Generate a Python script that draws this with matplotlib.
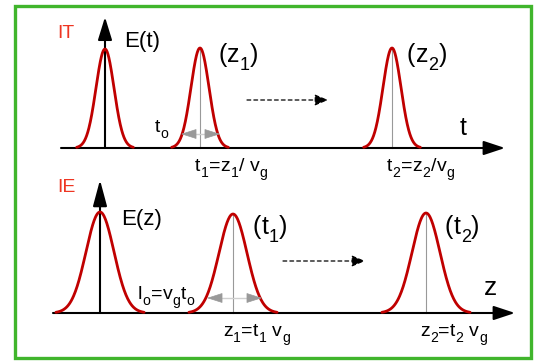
"""Pulse propagation sketch: IT (time domain) and IE (space domain) panels."""
import numpy as np
import matplotlib.pyplot as plt
from matplotlib.patches import Rectangle

plt.rcParams['font.family'] = ['Liberation Sans', 'DejaVu Sans']

# pulse data (pixel units of the sketch)
top_centers = [105, 200, 392]
top_heights = [99, 100, 100]
top_sigma = 9.0
bot_centers = [100, 233, 426]
bot_heights = [101, 99, 100]
bot_sigma = 14.0

top_base = 148
bot_base = 313
top_axis = (61, 505)
bot_axis = (53, 515)
top_vaxis_tip = 17
bot_vaxis_tip = 180

RED = '#c00000'
LABEL_RED = '#ee3522'
GRAY = '#999999'
GREEN = '#40b52c'

fig = plt.figure(figsize=(5.37, 3.61), dpi=100)
ax = fig.add_axes([0, 0, 1, 1])
ax.set_xlim(0, 537)
ax.set_ylim(361, 0)
ax.axis('off')
renderer = fig.canvas.get_renderer()


def arrow(x0, y0, x1, y1, color='black', lw=1.5, hl=13, hw=4.3, ls='-'):
    ax.annotate('', xy=(x1, y1), xytext=(x0, y0),
                arrowprops=dict(arrowstyle=f'-|>,head_length={hl},head_width={hw}',
                                mutation_scale=1, color=color, lw=lw,
                                linestyle=ls, shrinkA=0, shrinkB=0))


def pulses(centers, heights, sigma, base):
    for i, (c, h) in enumerate(zip(centers, heights)):
        x = np.linspace(c - 3.15 * sigma, c + 3.15 * sigma, 200)
        y = base - h * np.exp(-(x - c) ** 2 / (2 * sigma ** 2))
        ax.plot(x, y, color=RED, lw=2.0, solid_capstyle='round', zorder=3)
        if i > 0:
            ax.plot([c, c], [base, base - h], color=GRAY, lw=0.8, zorder=2)


def double_arrow(x0, x1, y):
    ax.plot([x0 + 5, x1 - 5], [y, y], color='#d0d0d0', lw=1.0, zorder=2)
    arrow(x0 + 13, y, x0, y, color=GRAY, lw=0.5, hl=10, hw=3.2)
    arrow(x1 - 13, y, x1, y, color=GRAY, lw=0.5, hl=10, hw=3.2)


def rich(x, y, text, size):
    """Draw text where '_c' makes the single char c a lowered subscript."""
    pieces = []
    i = 0
    while i < len(text):
        if text[i] == '_':
            pieces.append((text[i + 1], True))
            i += 2
        else:
            pieces.append((text[i], False))
            i += 1
    for s, sub in pieces:
        fs = size * 0.72 if sub else size
        dy = size * 0.32 * 100 / 72 if sub else 0
        t = ax.text(x, y + dy, s, fontsize=fs, ha='left', va='baseline', color='black')
        if s == ' ':
            x += size * 0.28 * 100 / 72
        else:
            x += t.get_window_extent(renderer).width + 0.3


# top panel
arrow(top_axis[0], top_base, top_axis[1], top_base, hl=13, hw=4.3)
arrow(top_centers[0], top_base, top_centers[0], top_vaxis_tip, hl=14, hw=4.3)
pulses(top_centers, top_heights, top_sigma, top_base)
double_arrow(181, 220, 134)
arrow(247, 100, 328, 100, lw=0.9, hl=8, hw=3.4, ls=(0, (3, 2.5)))

# bottom panel
arrow(bot_axis[0], bot_base, bot_axis[1], bot_base, hl=13, hw=4.3)
arrow(bot_centers[0], bot_base, bot_centers[0], bot_vaxis_tip, hl=16, hw=4.3)
pulses(bot_centers, bot_heights, bot_sigma, bot_base)
double_arrow(207, 262, 298)
arrow(283, 261, 365, 261, lw=0.9, hl=8, hw=3.4, ls=(0, (3, 2.5)))

# labels
ax.text(57, 38, 'IT', fontsize=14, ha='left', va='baseline', color=LABEL_RED)
ax.text(57, 192, 'IE', fontsize=14, ha='left', va='baseline', color=LABEL_RED)
ax.text(124, 47, 'E(t)', fontsize=16, ha='left', va='baseline')
ax.text(121, 225, 'E(z)', fontsize=16, ha='left', va='baseline')
rich(218, 62, '(z_1)', 18)
rich(407, 62, '(z_2)', 18)
rich(253, 234, '(t_1)', 18)
rich(445, 234, '(t_2)', 18)
ax.text(460, 135, 't', fontsize=18, ha='left', va='baseline')
ax.text(484, 295, 'z', fontsize=19, ha='left', va='baseline')
rich(155, 132, 't_o', 14)
rich(138, 299, 'l_o=v_gt_o', 14)
rich(195, 171, 't_1=z_1/ v_g', 14)
rich(387, 171, 't_2=z_2/v_g', 14)
rich(223, 336, 'z_1=t_1 v_g', 14)
rich(420, 336, 'z_2=t_2 v_g', 14)

# green frame
ax.add_patch(Rectangle((15, 5.5), 516, 352.5, fill=False, edgecolor=GREEN, lw=2.4))

fig.savefig('out.png', dpi=100)
